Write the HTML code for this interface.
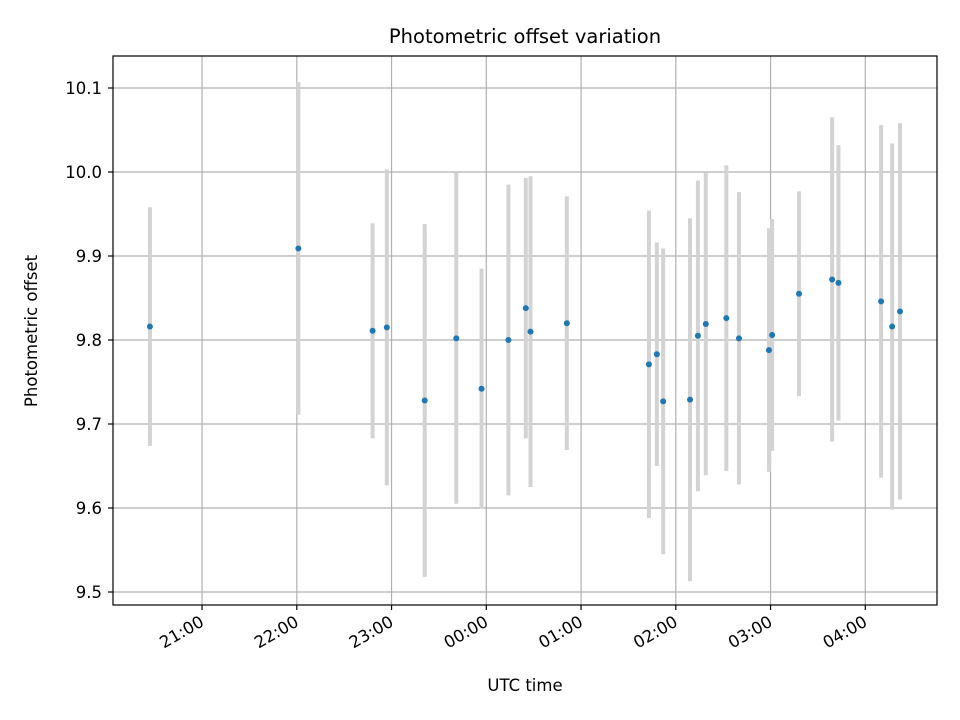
<!DOCTYPE html>
<html><head><meta charset="utf-8"><style>
body{margin:0;background:#fff;}
svg{display:block;font-family:"DejaVu Sans","Liberation Sans",sans-serif;}
</style></head><body>
<svg id="chart" width="960" height="720" viewBox="0 0 960 720" xmlns="http://www.w3.org/2000/svg">
<rect width="960" height="720" fill="#fff"/>
<g id="grid"></g>
<g id="bars"></g>
<g id="pts"></g>
<rect x="113" y="56" width="824" height="549" fill="none" stroke="#000" stroke-width="1.2"/>
<g id="axes"></g>
<text x="525" y="43" text-anchor="middle" font-size="19.5">Photometric offset variation</text>
<text x="525" y="691" text-anchor="middle" font-size="16.5">UTC time</text>
<text transform="translate(37,331) rotate(-90)" text-anchor="middle" font-size="16.5">Photometric offset</text>
</svg>
<script>
// minutes after 20:00 UTC
const times=[27,121,168,177,201,221,237,254,265,268,291,343,348,352,369,374,379,392,400,419,421,438,459,463,490,497,502];
const values=[9.816,9.909,9.811,9.815,9.728,9.802,9.742,9.800,9.838,9.810,9.820,9.771,9.783,9.727,9.729,9.805,9.819,9.826,9.802,9.788,9.806,9.855,9.872,9.868,9.846,9.816,9.834];
const errors=[0.142,0.198,0.128,0.188,0.21,0.197,0.143,0.185,0.155,0.185,0.151,0.183,0.133,0.182,0.216,0.185,0.18,0.182,0.174,0.145,0.138,0.122,0.193,0.164,0.21,0.218,0.224];
const yTicks=[9.5,9.6,9.7,9.8,9.9,10.0,10.1];
const xTickMin=[60,120,180,240,300,360,420,480];
const xTickLabels=["21:00","22:00","23:00","00:00","01:00","02:00","03:00","04:00"];
const NS="http://www.w3.org/2000/svg";
function xs(m){return 107.3+m*94.75/60;}
function ys(v){return 592-(v-9.5)*840;}
function mk(p,tag,attrs){const e=document.createElementNS(NS,tag);for(const k in attrs)e.setAttribute(k,attrs[k]);p.appendChild(e);return e;}
const grid=document.getElementById('grid'),axes=document.getElementById('axes'),bars=document.getElementById('bars'),pts=document.getElementById('pts');
yTicks.forEach(v=>{const y=ys(v);
 const g=mk(grid,'line',{x1:113,x2:937,y1:y,y2:y,stroke:'#b0b0b0','stroke-width':1.2});
 
 
 mk(axes,'line',{x1:108,x2:113,y1:y,y2:y,stroke:'#000','stroke-width':1.2});
 const t=mk(axes,'text',{x:102,y:y+6,'text-anchor':'end','font-size':16.5});t.textContent=v.toFixed(1);
 
 
});
xTickMin.forEach((m,i)=>{const x=xs(m);
 const g=mk(grid,'line',{x1:x,x2:x,y1:56,y2:605,stroke:'#b0b0b0','stroke-width':1.2});
 
 
 mk(axes,'line',{x1:x,x2:x,y1:605,y2:610,stroke:'#000','stroke-width':1.2});
 const t=mk(axes,'text',{transform:`translate(${x+3},${625}) rotate(-30)`,'text-anchor':'end','font-size':16.5});t.textContent=xTickLabels[i];
 
 
});
times.forEach((m,i)=>{const x=xs(m);
 const b=mk(bars,'line',{x1:x,x2:x,y1:ys(values[i]-errors[i]),y2:ys(values[i]+errors[i]),stroke:'#d3d3d3','stroke-width':4});
 
 
 const c=mk(pts,'circle',{cx:x,cy:ys(values[i]),r:3,fill:'#1f77b4'});
 
 
});
</script>
</body></html>
